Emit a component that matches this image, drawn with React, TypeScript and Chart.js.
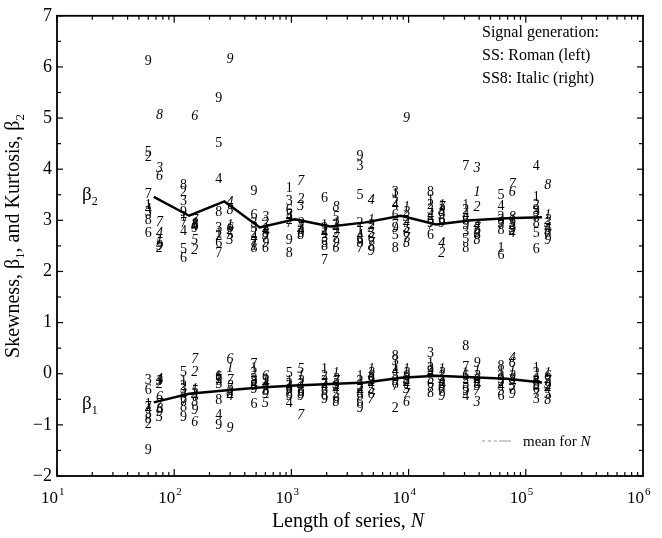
import React, { useEffect, useRef } from "react";
import { Chart, registerables } from "chart.js";

Chart.register(...registerables);

// Series lengths (N) for SS (Roman, left) and SS8 (Italic, right), and for the mean line
const romanN = [60, 120, 240, 480, 960, 1920, 3840, 7680, 15360, 30720, 61440, 122880];
const italicN = [75, 150, 300, 600, 1200, 2400, 4800, 9600, 19200, 38400, 76800, 153600];
const meanN = [67, 134, 268, 537, 1073, 2147, 4293, 8587, 17173, 34346, 68693, 137386];

// Mean for N
const beta2Mean = [3.46, 3.09, 3.37, 2.86, 3.02, 2.88, 2.96, 3.09, 2.92, 3.0, 3.04, 3.06];
const beta1Mean = [-0.56, -0.39, -0.33, -0.27, -0.23, -0.2, -0.17, -0.08, -0.04, -0.07, -0.1, -0.17];

// Run labels 1..9
const digitLabels = ["1", "2", "3", "4", "5", "6", "7", "8", "9"];

// Kurtosis beta2, one row per N, values for runs 1..9
const b2Roman = [
  [3.3, 4.23, 3.15, 3.22, 4.33, 2.75, 3.5, 3.0, 6.11],
  [3.05, 3.55, 3.38, 2.78, 2.44, 2.25, 2.95, 3.68, 3.15],
  [2.75, 2.68, 2.85, 3.8, 4.5, 2.55, 2.35, 3.15, 5.38],
  [2.5, 2.75, 2.95, 2.65, 2.85, 3.1, 2.55, 2.45, 3.57],
  [3.62, 3.0, 3.38, 3.05, 3.1, 3.2, 2.95, 2.35, 2.6],
  [2.9, 2.8, 2.65, 2.75, 2.55, 3.44, 2.22, 2.5, 2.85],
  [2.8, 2.95, 4.06, 2.7, 3.48, 2.6, 2.45, 2.55, 4.25],
  [3.5, 3.35, 3.55, 3.3, 2.7, 3.1, 2.9, 2.45, 2.85],
  [3.4, 3.3, 3.2, 3.1, 3.0, 2.7, 2.9, 3.54, 2.95],
  [3.3, 3.2, 2.77, 3.1, 2.62, 3.0, 4.06, 2.45, 2.9],
  [2.45, 3.05, 3.0, 3.27, 3.48, 2.32, 2.9, 2.8, 2.95],
  [3.45, 3.3, 3.15, 4.06, 2.75, 2.44, 3.05, 2.95, 3.2],
];
const b2Italic = [
  [2.6, 2.45, 4.02, 2.75, 2.55, 3.87, 2.96, 5.05, 2.5],
  [2.95, 2.42, 2.9, 2.88, 2.6, 5.03, 3.0, 2.92, 2.85],
  [2.9, 2.8, 2.6, 3.35, 2.7, 2.85, 2.75, 3.2, 6.15],
  [2.85, 2.95, 3.05, 2.8, 2.7, 2.45, 2.65, 2.75, 2.55],
  [2.9, 3.42, 3.27, 2.8, 2.85, 2.75, 3.77, 2.7, 2.95],
  [2.95, 2.75, 2.9, 2.85, 3.05, 2.45, 2.65, 3.25, 2.55],
  [3.0, 2.9, 2.85, 3.4, 2.75, 2.65, 2.55, 2.5, 2.4],
  [3.25, 3.15, 3.05, 2.95, 2.85, 2.75, 2.65, 2.55, 4.99],
  [3.3, 2.35, 3.2, 2.55, 3.1, 3.0, 3.25, 3.15, 2.95],
  [3.54, 3.25, 4.02, 2.9, 2.8, 2.7, 2.85, 2.6, 2.75],
  [3.0, 2.9, 2.85, 2.75, 2.95, 3.55, 3.7, 3.05, 2.8],
  [3.1, 3.0, 2.95, 2.85, 2.8, 2.75, 2.7, 3.68, 2.6],
];

// Skewness beta1
const b1Roman = [
  [-0.6, -0.98, -0.12, -0.7, -0.8, -0.33, -0.65, -0.9, -1.49],
  [-0.15, -0.25, -0.3, -0.4, 0.02, -0.5, -0.55, -0.65, -0.85],
  [-0.05, -0.1, -0.2, -0.81, -0.15, -0.08, -0.12, -0.52, -1.0],
  [0.1, 0.0, -0.1, -0.2, -0.25, -0.6, 0.19, -0.15, -0.3],
  [-0.15, -0.2, -0.25, -0.58, 0.0, -0.3, -0.35, -0.4, -0.45],
  [0.08, -0.05, -0.15, -0.25, -0.35, -0.45, -0.2, -0.3, -0.5],
  [-0.05, -0.15, -0.25, -0.35, -0.45, -0.55, -0.3, -0.4, -0.68],
  [0.15, -0.68, 0.25, 0.05, -0.05, -0.2, -0.25, 0.35, -0.15],
  [0.2, 0.1, 0.4, 0.0, -0.1, -0.2, -0.3, -0.38, 0.05],
  [0.0, -0.1, -0.2, -0.45, -0.3, -0.05, 0.12, 0.54, -0.35],
  [0.05, -0.05, -0.15, -0.25, -0.35, -0.45, -0.2, 0.15, -0.1],
  [0.1, 0.0, -0.5, -0.1, -0.2, -0.3, -0.4, -0.15, -0.25],
];
const b1Italic = [
  [-0.12, -0.2, -0.15, -0.1, -0.85, -0.46, -0.6, -0.7, -0.75],
  [-0.3, 0.02, -0.4, -0.45, -0.35, -0.95, 0.29, -0.55, -0.72],
  [0.1, -0.25, -0.35, -0.45, -0.3, 0.29, -0.12, -0.4, -1.06],
  [-0.1, -0.15, -0.2, -0.25, -0.58, -0.05, -0.3, -0.35, -0.4],
  [-0.05, -0.15, -0.2, -0.25, 0.08, -0.35, -0.82, -0.4, -0.45],
  [0.0, -0.1, -0.2, -0.3, -0.4, -0.5, -0.15, -0.55, -0.25],
  [0.08, 0.0, -0.1, -0.2, -0.3, -0.4, -0.5, -0.05, -0.15],
  [0.08, 0.0, -0.1, -0.2, -0.3, -0.56, -0.4, -0.15, -0.05],
  [0.08, 0.0, -0.05, -0.15, -0.25, -0.3, -0.35, -0.2, -0.45],
  [0.05, -0.05, -0.56, -0.15, -0.25, -0.1, -0.35, -0.2, 0.2],
  [0.05, -0.05, -0.15, 0.3, -0.25, 0.2, -0.3, -0.1, -0.4],
  [0.0, -0.1, -0.2, -0.3, -0.4, -0.05, -0.15, -0.52, -0.25],
];

const yTickMin = -2;
const yTickMax = 7;
const xTickExponents = [1, 2, 3, 4, 5, 6];
const infoLines = ["Signal generation:", "SS: Roman (left)", "SS8: Italic (right)"];

const SERIF = '"Liberation Serif", "Times New Roman", Times, serif';

function digitPoints(ns: number[], table: number[][]) {
  const pts: any[] = [];
  table.forEach((col, k) =>
    col.forEach((v, d) => pts.push({ x: ns[k], y: v, digit: digitLabels[d] }))
  );
  return pts;
}

const digitPlugin = {
  id: "digits",
  afterDatasetsDraw(chart: any) {
    const ctx = chart.ctx;
    chart.data.datasets.forEach((ds: any, i: number) => {
      if (!ds.digitStyle) return;
      const meta = chart.getDatasetMeta(i);
      ctx.save();
      ctx.font = `${ds.digitStyle} 14px ${SERIF}`;
      ctx.fillStyle = "#000";
      ctx.textAlign = "center";
      ctx.textBaseline = "middle";
      meta.data.forEach((el: any, j: number) => {
        ctx.fillText(ds.data[j].digit, el.x, el.y);
      });
      ctx.restore();
    });
  },
};

function drawSub(ctx: any, x: number, y: number, main: string, sub: string, size: number, subSize: number) {
  ctx.font = `${size}px ${SERIF}`;
  ctx.fillText(main, x, y);
  const w = ctx.measureText(main).width;
  ctx.font = `${subSize}px ${SERIF}`;
  ctx.fillText(sub, x + w, y + size * 0.25);
}

const framePlugin = {
  id: "frame",
  afterDraw(chart: any) {
    const ctx = chart.ctx;
    const { left, right, top, bottom } = chart.chartArea;
    const xs = chart.scales.x;
    const ys = chart.scales.y;
    ctx.save();
    ctx.strokeStyle = "#000";
    ctx.fillStyle = "#000";
    ctx.lineWidth = 1.8;
    ctx.strokeRect(left, top, right - left, bottom - top);
    ctx.lineWidth = 1.2;
    const line = (x1: number, y1: number, x2: number, y2: number) => {
      ctx.beginPath();
      ctx.moveTo(x1, y1);
      ctx.lineTo(x2, y2);
      ctx.stroke();
    };
    for (let v = yTickMin; v <= yTickMax; v += 0.5) {
      const y = ys.getPixelForValue(v);
      const len = Number.isInteger(v) ? 6 : 4;
      line(left, y, left + len, y);
      line(right, y, right - len, y);
    }
    for (let e = xTickExponents[0]; e < xTickExponents[xTickExponents.length - 1]; e++) {
      for (let m = 1; m <= 9; m++) {
        const x = xs.getPixelForValue(m * Math.pow(10, e));
        const len = m === 1 ? 7 : 4;
        line(x, bottom, x, bottom - len);
        line(x, top, x, top + len);
      }
    }
    // x tick labels 10^k
    ctx.textBaseline = "alphabetic";
    ctx.textAlign = "left";
    xTickExponents.forEach((e) => {
      const x = xs.getPixelForValue(Math.pow(10, e));
      ctx.font = `17px ${SERIF}`;
      const w = ctx.measureText("10").width;
      const sx = x - w + 1;
      ctx.fillText("10", sx, bottom + 27);
      ctx.font = `11px ${SERIF}`;
      ctx.fillText(String(e), sx + w + 1, bottom + 19);
    });
    // x title
    ctx.font = `20px ${SERIF}`;
    const t1 = "Length of series, ";
    const w1 = ctx.measureText(t1).width;
    ctx.font = `italic 20px ${SERIF}`;
    const w2 = ctx.measureText("N").width;
    const cx = (left + right) / 2 - 2;
    const sx = cx - (w1 + w2) / 2;
    ctx.font = `20px ${SERIF}`;
    ctx.fillText(t1, sx, 527);
    ctx.font = `italic 20px ${SERIF}`;
    ctx.fillText("N", sx + w1, 527);

    // y title rotated
    ctx.save();
    ctx.translate(19, 236);
    ctx.rotate(-Math.PI / 2);
    const parts: [string, number, number][] = [
      ["Skewness, β", 20, 0],
      ["1", 13, 5],
      [", and Kurtosis, β", 20, 0],
      ["2", 13, 5],
    ];
    let total = 0;
    parts.forEach(([s, sz]) => {
      ctx.font = `${sz}px ${SERIF}`;
      total += ctx.measureText(s).width;
    });
    let px = -total / 2;
    parts.forEach(([s, sz, dy]) => {
      ctx.font = `${sz}px ${SERIF}`;
      ctx.fillText(s, px, dy);
      px += ctx.measureText(s).width;
    });
    ctx.restore();

    // beta labels
    drawSub(ctx, 82, ys.getPixelForValue(3.45) + 3, "β", "2", 19, 12);
    drawSub(ctx, 82, ys.getPixelForValue(-0.65) + 2, "β", "1", 19, 12);

    // info text
    ctx.font = `16px ${SERIF}`;
    infoLines.forEach((s, i) => ctx.fillText(s, 482, 37 + i * 23));

    // legend
    ctx.strokeStyle = "#999";
    ctx.lineWidth = 1;
    ctx.setLineDash([3, 3]);
    line(482, 441, 497, 441);
    ctx.setLineDash([]);
    line(499, 441, 511, 441);
    ctx.font = `15px ${SERIF}`;
    const lt = "mean for ";
    ctx.fillText(lt, 523, 446);
    const lw = ctx.measureText(lt).width;
    ctx.font = `italic 15px ${SERIF}`;
    ctx.fillText("N", 523 + lw, 446);
    ctx.restore();
  },
};

export default function App() {
  const ref = useRef<HTMLCanvasElement | null>(null);
  useEffect(() => {
    if (!ref.current) return;
    const chart = new Chart(ref.current, {
      type: "scatter",
      data: {
        datasets: [
          {
            label: "β2 mean for N",
            data: meanN.map((n, i) => ({ x: n, y: beta2Mean[i] })),
            showLine: true,
            borderColor: "#000",
            borderWidth: 2.5,
            pointRadius: 0,
          } as any,
          {
            label: "β1 mean for N",
            data: meanN.map((n, i) => ({ x: n, y: beta1Mean[i] })),
            showLine: true,
            borderColor: "#000",
            borderWidth: 2.5,
            pointRadius: 0,
          } as any,
          { label: "β2 SS", data: digitPoints(romanN, b2Roman), pointRadius: 0, digitStyle: "normal" } as any,
          { label: "β2 SS8", data: digitPoints(italicN, b2Italic), pointRadius: 0, digitStyle: "italic" } as any,
          { label: "β1 SS", data: digitPoints(romanN, b1Roman), pointRadius: 0, digitStyle: "normal" } as any,
          { label: "β1 SS8", data: digitPoints(italicN, b1Italic), pointRadius: 0, digitStyle: "italic" } as any,
        ],
      },
      options: {
        responsive: false,
        animation: false,
        devicePixelRatio: 1,
        layout: { padding: { left: 0, right: 19, top: 11, bottom: 0 } },
        plugins: { legend: { display: false }, tooltip: { enabled: false } },
        scales: {
          x: {
            type: "logarithmic",
            min: 10,
            max: 1e6,
            grid: { display: false, drawTicks: false },
            border: { display: false },
            ticks: { display: false },
            afterFit: (s: any) => {
              s.height = 62;
            },
          },
          y: {
            type: "linear",
            min: yTickMin,
            max: yTickMax,
            grid: { display: false, drawTicks: false },
            border: { display: false },
            ticks: {
              stepSize: 1,
              color: "#000",
              padding: 5,
              font: { family: SERIF, size: 18 },
              callback: (v: any) => (Number(v) < 0 ? "\u2212" + Math.abs(Number(v)) : String(v)),
            },
            afterFit: (s: any) => {
              s.width = 57;
            },
          },
        },
      } as any,
      plugins: [digitPlugin, framePlugin],
    });
    return () => chart.destroy();
  }, []);
  return (
    <div style={{ position: "fixed", left: 0, top: 0, width: 662, height: 538, background: "#fff" }}>
      <canvas ref={ref} width={662} height={538} style={{ display: "block" }} />
    </div>
  );
}
